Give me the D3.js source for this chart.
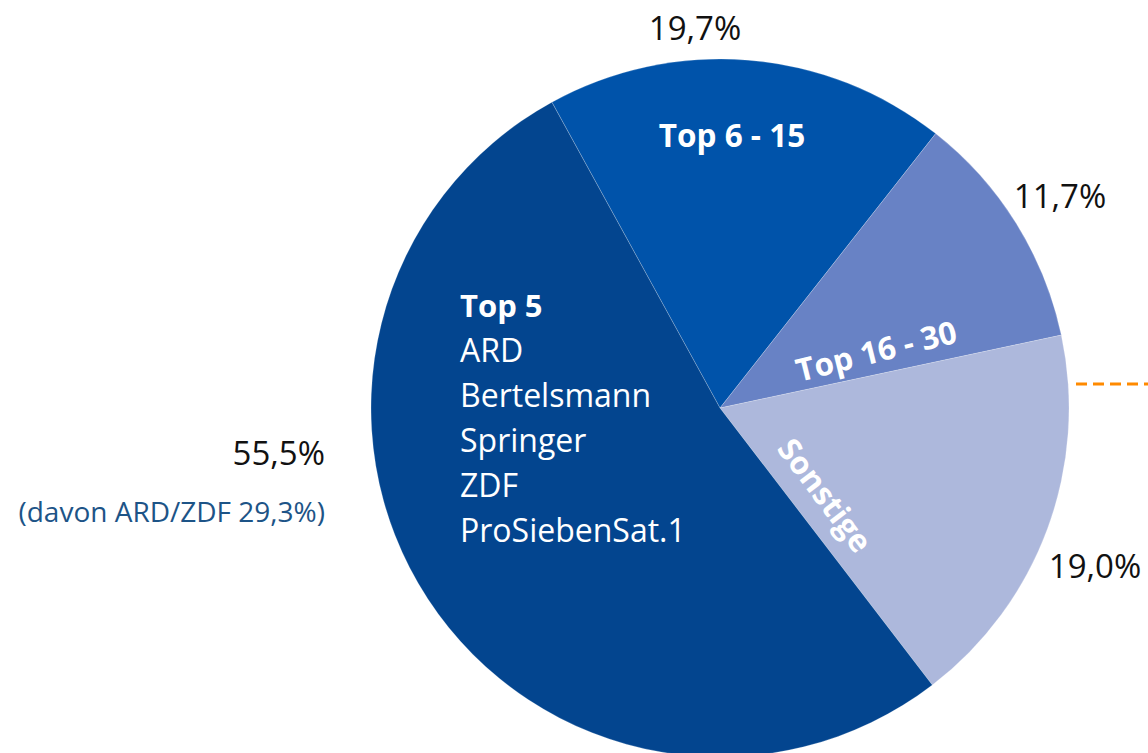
<!DOCTYPE html>
<meta charset="utf-8">
<script src="https://d3js.org/d3.v7.min.js"></script>
<style>
body { margin: 0; background: #fff; }
svg { display: block; font-family: "Open Sans", sans-serif; }
</style>
<svg id="chart" width="1148" height="753"></svg>
<script>

// slice order is clockwise from the top-left edge of "Top 6 - 15"
var categories = ["Top 6 - 15", "Top 16 - 30", "Sonstige", "Top 5"];
var shares = [19.7, 11.7, 19.0, 55.5];
var shareLabels = ["19,7%", "11,7%", "19,0%", "55,5%"];
var top5Members = ["ARD", "Bertelsmann", "Springer", "ZDF", "ProSiebenSat.1"];
var note = "(davon ARD/ZDF 29,3%)";

var colors = ["#0053aa", "#6882c5", "#adb8dc", "#03458f"];

var width = 1148, height = 753;
var cx = 720, cy = 408, radius = 349;

var svg = d3.select("#chart");
var g = svg.append("g").attr("transform", "translate(" + cx + "," + cy + ")");

var startDeg = -28.8;
var pie = d3.pie()
  .sort(null)
  .startAngle(startDeg * Math.PI / 180)
  .endAngle((startDeg + 360) * Math.PI / 180);

var arc = d3.arc().innerRadius(0).outerRadius(radius);

var slices = pie(shares);

g.selectAll("path.slice").data(slices).enter()
  .append("path")
  .attr("class", "slice")
  .attr("d", arc)
  .attr("fill", function(d, i) { return colors[i]; })
  .attr("stroke", "rgba(255,255,255,0.35)")
  .attr("stroke-width", 0.6);

// percentage labels outside the pie (offsets relative to pie centre)
var outer = [
  {dx: -25, dy: -368, anchor: "middle"},
  {dx: 340, dy: -200, anchor: "middle"},
  {dx: 375, dy: 170, anchor: "middle"},
  {dx: -395, dy: 57, anchor: "end"}
];
g.selectAll("text.pct").data(shareLabels).enter()
  .append("text")
  .attr("class", "pct")
  .attr("x", function(d, i) { return outer[i].dx; })
  .attr("y", function(d, i) { return outer[i].dy; })
  .attr("text-anchor", function(d, i) { return outer[i].anchor; })
  .attr("font-size", 33)
  .attr("fill", "#111")
  .text(function(d) { return d; });

g.append("text")
  .attr("x", -395).attr("y", 114)
  .attr("text-anchor", "end")
  .attr("font-size", 28)
  .attr("fill", "#1d5487")
  .text(note);

// inner labels
g.append("text")
  .attr("x", 12).attr("y", -261)
  .attr("text-anchor", "middle")
  .attr("font-size", 31.5).attr("font-weight", "bold")
  .attr("fill", "#fff")
  .text(categories[0]);

g.append("text")
  .attr("transform", "translate(159,-46) rotate(-14)")
  .attr("text-anchor", "middle")
  .attr("font-size", 31.5).attr("font-weight", "bold")
  .attr("fill", "#fff")
  .text(categories[1]);

g.append("text")
  .attr("transform", "translate(96,94) rotate(53)")
  .attr("text-anchor", "middle")
  .attr("font-size", 31.5).attr("font-weight", "bold")
  .attr("fill", "#fff")
  .text(categories[2]);

var block = g.append("text")
  .attr("x", -260).attr("y", -91)
  .attr("font-size", 32)
  .attr("fill", "#fff");
block.append("tspan").attr("x", -260).attr("font-weight", "bold").attr("font-size", 31).text(categories[3]);
top5Members.forEach(function(m) {
  block.append("tspan").attr("x", -260).attr("dy", 45).text(m);
});

// orange dashed marker at right edge
svg.append("line")
  .attr("x1", 1076).attr("x2", 1148)
  .attr("y1", 384).attr("y2", 384)
  .attr("stroke", "#ff8a00")
  .attr("stroke-width", 3)
  .attr("stroke-dasharray", "11,6");

</script>
